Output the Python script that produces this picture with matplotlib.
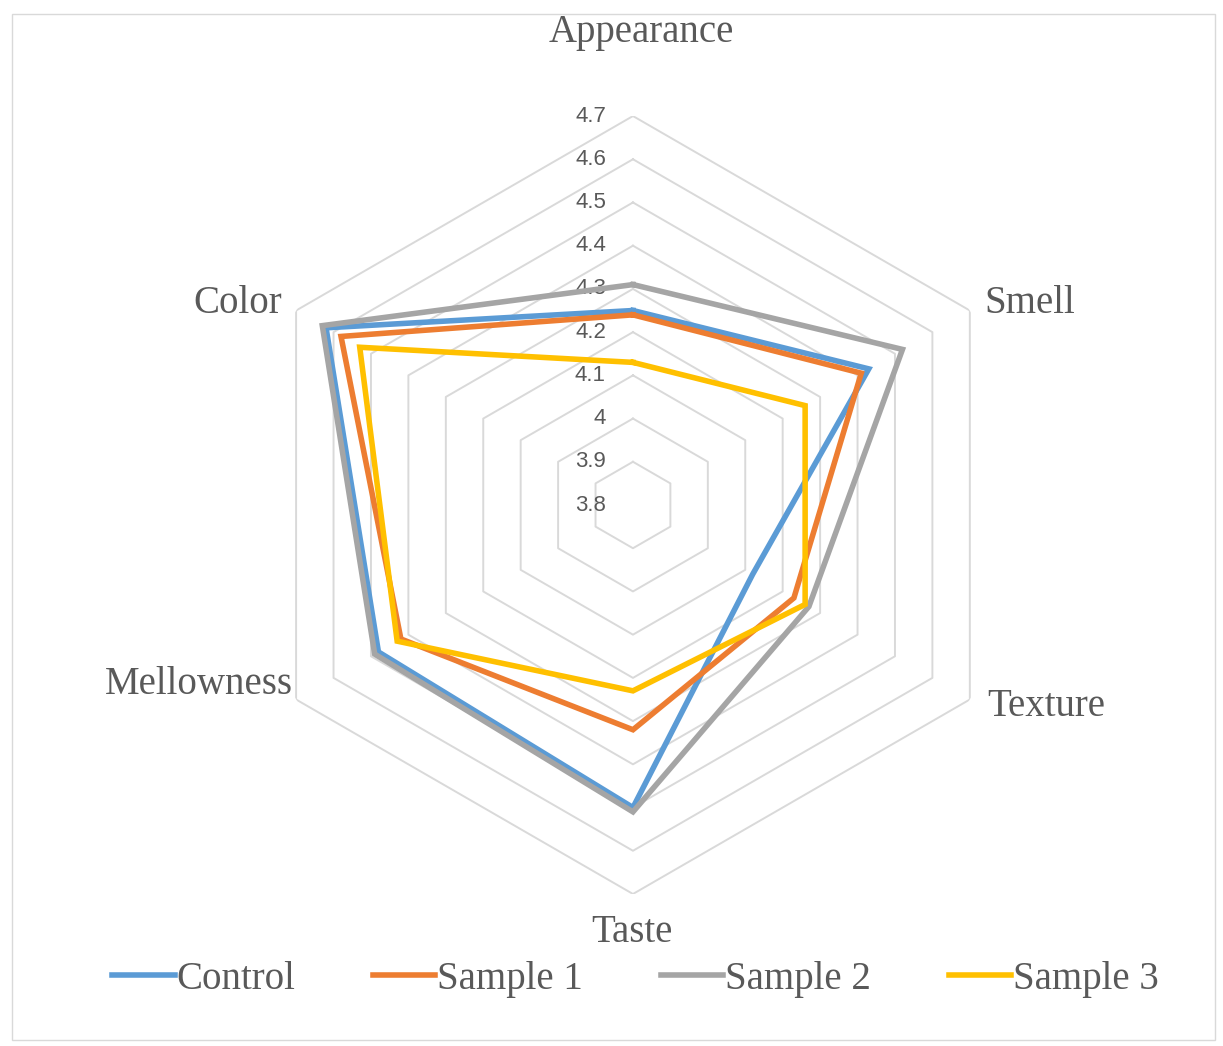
### sensory evaluation radar chart ###
import numpy as np
import matplotlib.pyplot as plt
from matplotlib.transforms import ScaledTranslation
from matplotlib.patches import Rectangle

categories = ['Appearance', 'Smell', 'Texture', 'Taste', 'Mellowness', 'Color']
control = [4.25, 4.43, 4.12, 4.50, 4.48, 4.62]
sample_1 = [4.24, 4.41, 4.23, 4.32, 4.42, 4.58]
sample_2 = [4.31, 4.52, 4.27, 4.51, 4.49, 4.63]
sample_3 = [4.13, 4.26, 4.26, 4.23, 4.43, 4.53]
series_names = ['Control', 'Sample 1', 'Sample 2', 'Sample 3']
ring_values = [3.8, 3.9, 4.0, 4.1, 4.2, 4.3, 4.4, 4.5, 4.6, 4.7]
ring_labels = ['3.8', '3.9', '4', '4.1', '4.2', '4.3', '4.4', '4.5', '4.6', '4.7']

line_colors = ['#5B9BD5', '#ED7D31', '#A5A5A5', '#FFC000']
text_color = '#595959'
grid_color = '#D9D9D9'

fig = plt.figure(figsize=(12.23, 10.46), dpi=100)
ax = fig.add_axes([0.1995, 0.1453, 0.6361, 0.7438], projection='polar')
ax.set_theta_offset(np.pi / 2)
ax.set_theta_direction(-1)
ax.set_ylim(3.8, 4.7)
ax.grid(False)
ax.set_xticks([])
ax.set_yticks([])
ax.spines['polar'].set_visible(False)
ax.patch.set_alpha(0)

angles = np.linspace(0, 2 * np.pi, len(categories), endpoint=False)
closed = np.append(angles, angles[0])

# hexagon rings
for v in ring_values[1:]:
    ax.plot(closed, [v] * len(closed), color=grid_color, lw=1.4, zorder=1)

# ring value labels up the top axis
for v, lab in zip(ring_values, ring_labels):
    off = ScaledTranslation(-0.27, 0, fig.dpi_scale_trans)
    ax.text(0, v, lab, ha='right', va='center', fontsize=16, color=text_color,
            family='Liberation Sans', transform=ax.transData + off, zorder=2)

# category labels around the outer ring
label_offsets = [(0.08, 0.84, 'center'), (0.15, 0.07, 'left'), (0.17, -0.07, 'left'),
                 (-0.01, -0.39, 'center'), (-0.03, 0.15, 'right'), (-0.14, 0.07, 'right')]
for ang, name, (dx, dy, ha) in zip(angles, categories, label_offsets):
    off = ScaledTranslation(dx, dy, fig.dpi_scale_trans)
    ax.text(ang, 4.7, name, ha=ha, va='center', fontsize=28, color=text_color,
            family='Liberation Serif', transform=ax.transData + off)

for vals, name, c in zip([control, sample_1, sample_2, sample_3], series_names, line_colors):
    ax.plot(closed, vals + vals[:1], color=c, lw=4, label=name, zorder=3,
            solid_joinstyle='miter')

leg = fig.legend(loc='center', bbox_to_anchor=(0.5196, 0.064), ncol=4, frameon=False,
                 handlelength=1.6, handletextpad=0.05, columnspacing=2.0,
                 prop={'family': 'Liberation Serif', 'size': 28})
for t in leg.get_texts():
    t.set_color(text_color)

# chart area border
fig.patches.append(Rectangle((12 / 1223, 6 / 1046), 1203 / 1223, 1026 / 1046,
                             transform=fig.transFigure, fill=False,
                             edgecolor=grid_color, lw=1))

plt.savefig('out.png', dpi=100, facecolor='white')
